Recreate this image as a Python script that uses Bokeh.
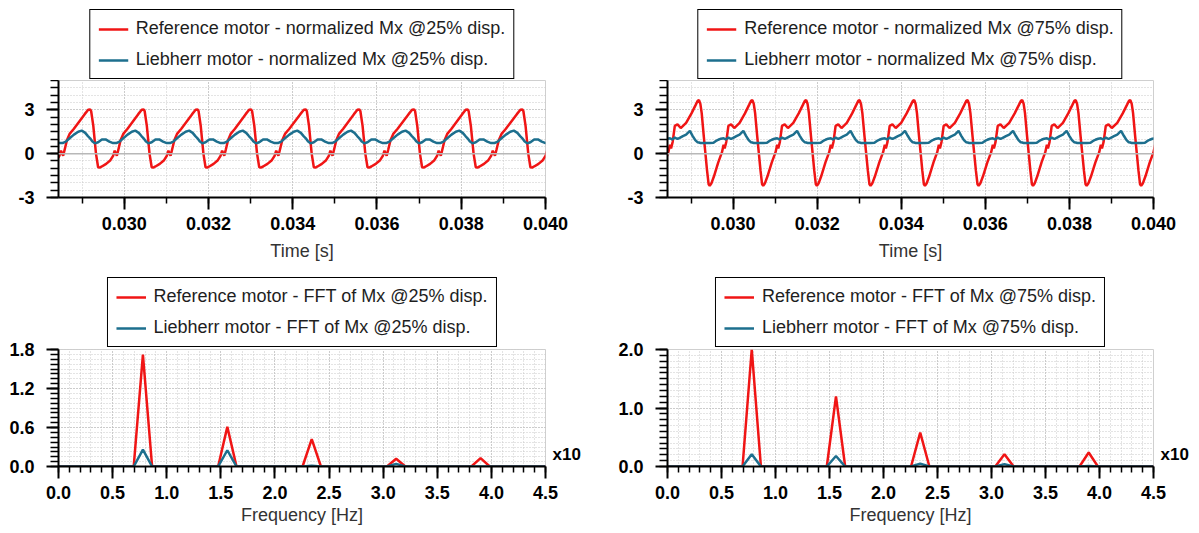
from bokeh.plotting import figure
from bokeh.models import (Range1d, FixedTicker, PrintfTickFormatter, Legend,
                          LegendItem, Span, LinearAxis)
from bokeh.layouts import column, row
from bokeh.embed import file_html
from bokeh.resources import INLINE

# ---------------- data ----------------
# times (s) of the red peaks of each cycle (first one is the partial cycle before the plot start)
PEAK_TIMES = [0.02791, 0.02919, 0.03046, 0.03174, 0.03301, 0.03431,
              0.03558, 0.03688, 0.03815, 0.03945]
LAST_PERIOD = 0.00128

# one cycle of each normalized-Mx waveform, phase measured from the red peak
R25_PHASE = [0.0, 0.02, 0.06, 0.11, 0.15, 0.18, 0.22, 0.30, 0.38, 0.43,
             0.46, 0.50, 0.53, 0.57, 0.62, 0.70, 0.80, 0.90, 0.965]
R25_VALUE = [3.02, 2.9, 1.9, 0.0, -0.93, -0.95, -0.88, -0.7, -0.45, -0.15,
             0.2, -0.15, 0.3, 0.92, 1.35, 1.7, 2.2, 2.7, 3.0]

B25_PHASE = [0.0, 0.04, 0.09, 0.15, 0.22, 0.29, 0.36, 0.43, 0.49, 0.55,
             0.62, 0.70, 0.78, 0.845, 0.91, 0.96]
B25_VALUE = [1.05, 0.85, 0.7, 0.78, 0.97, 0.97, 0.82, 0.72, 0.72, 0.82,
             1.05, 1.3, 1.5, 1.57, 1.42, 1.2]

R75_PHASE = [0.0, 0.025, 0.05, 0.09, 0.12, 0.15, 0.18, 0.20, 0.23, 0.28,
             0.36, 0.43, 0.46, 0.48, 0.51, 0.55, 0.60, 0.66, 0.76, 0.86,
             0.94, 0.975]
R75_VALUE = [3.65, 3.4, 2.77, 1.15, 0.0, -1.15, -2.1, -2.2, -2.05, -1.55,
             -0.6, 0.1, 0.6, 0.35, 0.8, 1.9, 2.0, 1.75, 2.1, 2.75,
             3.35, 3.62]

B75_PHASE = [0.0, 0.03, 0.10, 0.20, 0.27, 0.31, 0.36, 0.41, 0.46, 0.50,
             0.55, 0.60, 0.65, 0.70, 0.76, 0.83, 0.88, 0.93, 0.97]
B75_VALUE = [0.76, 0.72, 0.72, 0.72, 0.74, 0.85, 0.95, 1.02, 1.05, 0.97,
             1.1, 1.0, 1.1, 1.2, 1.3, 1.55, 1.22, 0.92, 0.78]

# FFT (frequency axis in units of x10 as labelled)
F_HARM = [0.78, 1.56, 2.34, 3.12, 3.90]
BIN_HALF = 0.085
FFT_R25 = [1.72, 0.61, 0.42, 0.12, 0.13]
FFT_B25 = [0.26, 0.25, 0.01, 0.04, 0.0]
FFT_R75 = [2.0, 1.2, 0.58, 0.21, 0.24]
FFT_B75 = [0.21, 0.18, 0.05, 0.04, 0.01]

TIME_TICKS = [0.030, 0.032, 0.034, 0.036, 0.038, 0.040]
TIME_MINOR = [0.029, 0.030, 0.031, 0.032, 0.033, 0.034, 0.035, 0.036,
              0.037, 0.038, 0.039, 0.040]
MX_TICKS = [-3, 0, 3]
FREQ_TICKS = [0.0, 0.5, 1.0, 1.5, 2.0, 2.5, 3.0, 3.5, 4.0, 4.5]
AMP25_TICKS = [0.0, 0.6, 1.2, 1.8]
AMP75_TICKS = [0.0, 1.0, 2.0]
FREQ_SCALE_TEXT = "x10"

LABELS = {
    "r25": "Reference motor - normalized Mx @25% disp.",
    "b25": "Liebherr motor - normalized Mx @25% disp.",
    "r75": "Reference motor - normalized Mx @75% disp.",
    "b75": "Liebherr motor - normalized Mx @75% disp.",
    "fr25": "Reference motor - FFT of Mx @25% disp.",
    "fb25": "Liebherr motor - FFT of Mx @25% disp.",
    "fr75": "Reference motor - FFT of Mx @75% disp.",
    "fb75": "Liebherr motor - FFT of Mx @75% disp.",
}

RED = "#f01515"
BLUE = "#1d6f8e"
FONT = "Liberation Sans"
LW = 2.5


def cycles(phases, values):
    t, v = [], []
    for i, pk in enumerate(PEAK_TIMES):
        span = PEAK_TIMES[i + 1] - pk if i + 1 < len(PEAK_TIMES) else LAST_PERIOD
        for ph, val in zip(phases, values):
            t.append(pk + ph * span)
            v.append(val)
    return t, v


def spectrum(amps):
    f, a = [0.0], [0.0]
    for h, amp in zip(F_HARM, amps):
        f += [h - BIN_HALF, h, h + BIN_HALF]
        a += [0.0, amp, 0.0]
    f.append(4.5)
    a.append(0.0)
    return f, a


def legend_fig(w, bl, br, h, bt, l1, l2):
    q = figure(width=w, height=h, min_border_left=bl, min_border_right=br,
               min_border_top=bt, min_border_bottom=0,
               x_range=Range1d(0, 1), y_range=Range1d(0, 1),
               x_axis_type=None, y_axis_type=None, output_backend="svg",
               toolbar_location=None)
    q.outline_line_color = None
    q.grid.visible = False
    # sample renderers for the legend keys (drawn outside the visible range)
    r1 = q.line(x=[5, 6], y=[5, 6], line_color=RED, line_width=LW)
    r2 = q.line(x=[5, 6], y=[5, 6], line_color=BLUE, line_width=LW)
    leg = Legend(items=[LegendItem(label=l1, renderers=[r1]),
                        LegendItem(label=l2, renderers=[r2])],
                 location="center", orientation="vertical",
                 margin=0, padding=8, spacing=10, glyph_width=30,
                 glyph_height=20, label_height=20, label_standoff=8,
                 label_text_font=FONT, label_text_font_size="18px",
                 label_text_color="#1e1e1e", border_line_color="black",
                 border_line_alpha=1.0, border_line_width=1.5,
                 background_fill_color="white", background_fill_alpha=1.0)
    q.add_layout(leg)
    return q


def make_fig(w, h, bl, br, bt, bb, xr, yr, xticks, xminor, xfmt, yticks,
             yminor, yfmt, xlabel, alstand, ymin_out, margin=None):
    kw = {}
    if margin is not None:
        kw["margin"] = margin
    p = figure(width=w, height=h, min_border_left=bl,
               min_border_right=br, min_border_top=bt, min_border_bottom=bb,
               x_range=xr, y_range=yr, output_backend="svg",
               toolbar_location=None, background_fill_color="white", **kw)
    p.border_fill_alpha = 0.0
    p.outline_line_color = "#cfcfcf"
    p.outline_line_width = 1
    p.xaxis.ticker = FixedTicker(ticks=xticks, minor_ticks=xminor)
    p.yaxis.ticker = FixedTicker(ticks=yticks, minor_ticks=yminor)
    p.xaxis.formatter = PrintfTickFormatter(format=xfmt)
    p.yaxis.formatter = PrintfTickFormatter(format=yfmt)
    p.xaxis.axis_label = xlabel
    for ax in (p.xaxis[0], p.yaxis[0]):
        ax.axis_line_color = "black"
        ax.axis_line_width = 2
        ax.major_tick_line_color = "black"
        ax.major_tick_line_width = 2
        ax.major_tick_in = 0
        ax.major_tick_out = 12
        ax.minor_tick_line_color = "black"
        ax.minor_tick_line_width = 1.5
        ax.minor_tick_in = 0
        ax.major_label_text_font = FONT
        ax.major_label_text_font_size = "18px"
        ax.major_label_text_font_style = "bold"
        ax.major_label_text_color = "black"
        ax.axis_label_text_font = FONT
        ax.axis_label_text_font_size = "18px"
        ax.axis_label_text_font_style = "normal"
        ax.axis_label_text_color = "#333333"
    p.xaxis.minor_tick_out = 6
    p.yaxis.minor_tick_out = ymin_out
    p.yaxis.major_label_standoff = 12
    p.xaxis.major_label_standoff = 7
    p.xaxis.axis_label_standoff = alstand
    for g in (p.xgrid[0], p.ygrid[0]):
        g.grid_line_color = "#b4b4b4"
        g.grid_line_dash = "1 2"
        g.grid_line_width = 1
        g.minor_grid_line_color = "#c8c8c8"
        g.minor_grid_line_dash = "1 2"
        g.minor_grid_line_width = 1
    return p


def time_fig(w, bl, br, rph, rv, bph, bv):
    p = make_fig(w, 196, bl, br, 0, 79, Range1d(0.02844, 0.040),
                 Range1d(-3, 5), TIME_TICKS, TIME_MINOR, "%.3f", MX_TICKS,
                 [-3 + 0.5 * k for k in range(17)], "%d", "Time [s]", 8, 8)
    p.add_layout(Span(location=0, dimension="width", line_color="#b8b8b8",
                      line_width=1.5))
    tr, vr = cycles(rph, rv)
    tb, vb = cycles(bph, bv)
    p.line(tr, vr, line_color=RED, line_width=LW)
    p.line(tb, vb, line_color=BLUE, line_width=LW)
    return p


def fft_fig(w, bl, br, ytop, yticks, yminor, ar, ab):
    p = make_fig(w, 192, bl, br, 11, 64, Range1d(0, 4.5), Range1d(0, ytop),
                 FREQ_TICKS, [0.1 * k for k in range(46)], "%.1f", yticks,
                 yminor, "%.1f", "Frequency [Hz]", 3, 8,
                 margin=(-10, 0, 0, 0))
    fr, vr = spectrum(ar)
    fb, vb = spectrum(ab)
    p.line(fr, vr, line_color=RED, line_width=LW)
    p.line(fb, vb, line_color=BLUE, line_width=LW)
    # "x10" multiplier shown just above the right end of the frequency axis
    pos = ytop * 12.0 / 117.0
    ax = LinearAxis(ticker=FixedTicker(ticks=[pos]),
                    major_label_overrides={pos: FREQ_SCALE_TEXT},
                    axis_line_color=None, major_tick_line_color=None,
                    minor_tick_line_color=None, major_label_standoff=7,
                    major_tick_out=0, major_tick_in=0,
                    major_label_text_font=FONT,
                    major_label_text_font_size="17px",
                    major_label_text_font_style="bold",
                    major_label_text_color="black")
    p.add_layout(ax, "right")
    return p


L1 = legend_fig(600, 58, 55, 80, 8, LABELS["r25"], LABELS["b25"])
L2 = legend_fig(591, 67, 38, 80, 8, LABELS["r75"], LABELS["b75"])
p1 = time_fig(600, 58, 55, R25_PHASE, R25_VALUE, B25_PHASE, B25_VALUE)
p2 = time_fig(591, 67, 38, R75_PHASE, R75_VALUE, B75_PHASE, B75_VALUE)
L3 = legend_fig(600, 58, 55, 72, 0, LABELS["fr25"], LABELS["fb25"])
L4 = legend_fig(591, 67, 38, 72, 0, LABELS["fr75"], LABELS["fb75"])
p3 = fft_fig(600, 58, 55, 1.8, AMP25_TICKS, [0.075 * k for k in range(25)],
             FFT_R25, FFT_B25)
p4 = fft_fig(591, 67, 38, 2.0, AMP75_TICKS, [0.1 * k for k in range(21)],
             FFT_R75, FFT_B75)

layout = column(row(column(L1, p1), column(L2, p2)),
                row(column(L3, p3), column(L4, p4)))
open("out.html", "w").write(file_html(layout, INLINE))
